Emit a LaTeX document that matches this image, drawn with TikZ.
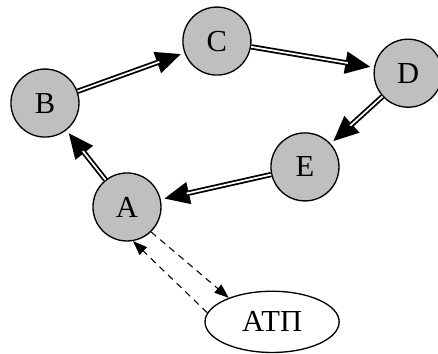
\documentclass[tikz,border=0pt]{standalone}
\usepackage{fontspec}
\setmainfont{Liberation Serif}
\usetikzlibrary{arrows.meta,shapes.geometric}
\tikzset{
  vertex/.style={circle,draw,line width=1pt,fill=black!25,minimum size=1.8cm,inner sep=0pt,font=\fontsize{23}{27}\selectfont},
  terminal/.style={ellipse,draw,line width=1pt,minimum width=3.55cm,minimum height=1.62cm,inner sep=0pt,font=\fontsize{23}{27}\selectfont},
  flow/.style={line width=4pt,-{Triangle[length=0.66cm,width=0.6cm,line width=0pt,sep=0.1cm]},
    postaction={draw=white,line width=1.3pt,-,shorten >=0.7cm}},
  query/.style={dashed,dash pattern=on 5pt off 4pt,line width=0.8pt,-{Triangle[length=0.38cm,width=0.28cm]}}
}
\begin{document}
\begin{tikzpicture}
\useasboundingbox (0,0) rectangle (11.59,9.367);
\node[vertex] (B) at (1.19,6.64) {B};
\node[vertex] (C) at (5.74,8.28) {C};
\node[vertex] (D) at (10.80,7.43) {D};
\node[vertex] (E) at (8.07,4.95) {E};
\node[vertex] (A) at (3.36,3.89) {A};
\node[terminal] (atp) at (7.20,0.85) {АТП};

\draw[flow] (B) -- (C);
\draw[flow] (C) -- (D);
\draw[flow] (D) -- (E);
\draw[flow] (E) -- (A);
\draw[flow] (A) -- (B);

\draw[query] (A.-46) -- (atp.151);
\draw[query] (atp.172) -- (A.-80);
\end{tikzpicture}
\end{document}
